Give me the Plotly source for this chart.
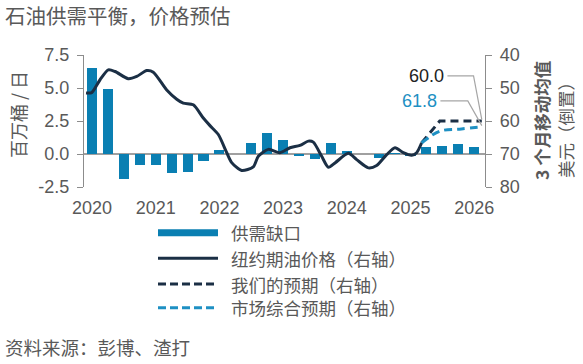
import plotly.graph_objects as go

# ---------------- data ----------------
quarters = [2020 + 0.25 * i for i in range(25)]  # 2020Q1 .. 2026Q1
supply_gap = [6.5, 4.9, -1.9, -0.87, -0.87, -1.45, -1.33, -0.51,
              0.3, 0.0, 0.84, 1.6, 1.09, -0.1, -0.38, 0.84,
              0.23, 0.0, -0.3, 0.05, -0.15, 0.56, 0.63, 0.73, 0.53]

wti_x = [2019.906, 2019.995, 2020.126, 2020.256, 2020.361, 2020.570, 2020.702,
         2020.859, 2020.962, 2021.173, 2021.330, 2021.433, 2021.590, 2021.747,
         2021.852, 2021.983, 2022.115, 2022.193, 2022.350, 2022.532, 2022.611,
         2022.768, 2022.951, 2023.108, 2023.265, 2023.396, 2023.474, 2023.606,
         2023.710, 2023.815, 2024.024, 2024.155, 2024.338, 2024.469, 2024.626,
         2024.757, 2024.887, 2025.019, 2025.097, 2025.176]
wti_y = [51.5, 51.4, 47.5, 44.5, 45.0, 47.2, 46.5,
         44.7, 45.2, 50.6, 53.4, 54.6, 55.1, 59.1,
         61.4, 64.1, 69.6, 72.6, 75.0, 73.9, 70.7,
         68.6, 69.6, 68.1, 67.4, 66.1, 66.4, 70.7,
         74.0, 72.7, 69.8, 71.7, 74.2, 73.5, 70.2,
         68.1, 69.6, 70.4, 69.6, 66.6]

ours_x = [2025.176, 2025.46, 2026.12]
ours_y = [66.6, 60.0, 60.0]
mkt_x = [2025.176, 2025.46, 2025.80, 2026.12]
mkt_y = [66.6, 63.1, 62.4, 61.8]

year_ticks = [2020, 2021, 2022, 2023, 2024, 2025, 2026]
left_ticks = [-2.5, 0.0, 2.5, 5.0, 7.5]
right_ticks = [40, 50, 60, 70, 80]

legend_names = ["供需缺口", "纽约期油价格（右轴）", "我们的预期（右轴）", "市场综合预期（右轴）"]

# ---------------- style ----------------
W, H = 583, 364
ML, MR, MT, MB = 84, 98, 55, 177
BAR = "#0a7fb2"
NAVY = "#1b2f45"
LBLUE = "#1e90c3"
GREY_TXT = "#595959"
AXIS = "#8c8c8c"
FONT = "Liberation Sans, Arial, Noto Sans CJK SC"
CJK = "Noto Sans CJK SC, Liberation Sans"

pw, ph = W - ML - MR, H - MT - MB


def px(x):
    return (x - ML) / pw


def py(y):
    return (H - MB - y) / ph


fig = go.Figure()
fig.add_trace(go.Bar(x=quarters, y=supply_gap, width=0.158, marker_color=BAR,
                     marker_line_width=0, name=legend_names[0], yaxis="y"))
fig.add_trace(go.Scatter(x=wti_x, y=wti_y, mode="lines", yaxis="y2",
                         line=dict(color=NAVY, width=3, shape="spline", smoothing=0.7),
                         name=legend_names[1]))
fig.add_trace(go.Scatter(x=ours_x, y=ours_y, mode="lines", yaxis="y2",
                         line=dict(color=NAVY, width=3, dash="8px,5px"),
                         name=legend_names[2]))
fig.add_trace(go.Scatter(x=mkt_x, y=mkt_y, mode="lines", yaxis="y2",
                         line=dict(color=LBLUE, width=3, dash="8px,5px", shape="spline"),
                         name=legend_names[3]))

shapes = []
annotations = []

# end-value labels with elbow leaders
lbl = [(ours_x[-1], ours_y[-1], "#222222", 2025.55, 46.3, 2025.99),
       (mkt_x[-1], mkt_y[-1], LBLUE, 2025.44, 53.9, 2025.90)]
for xe, ye, col, lx, ly, elbow in lbl:
    annotations.append(dict(x=lx, y=ly, xref="x", yref="y2", text=f"{ye:.1f}",
                            showarrow=False, xanchor="right", yanchor="middle",
                            font=dict(family=FONT, size=18, color=col)))
    shapes.append(dict(type="path", xref="x", yref="y2",
                       path=f"M {lx + 0.03},{ly} L {elbow},{ly} L {xe},{ye - 0.4}",
                       line=dict(color="#a6a6a6", width=1.2)))

# custom legend
leg_rows = [232.7, 258.3, 284.0, 307.7]
leg_styles = [dict(color=BAR, width=7), dict(color=NAVY, width=3),
              dict(color=NAVY, width=3, dash="8px,4px"), dict(color=LBLUE, width=3, dash="8px,4px")]
for yy, st, name in zip(leg_rows, leg_styles, legend_names):
    shapes.append(dict(type="line", xref="paper", yref="paper", x0=px(158), x1=px(218),
                       y0=py(yy), y1=py(yy), line=st))
    annotations.append(dict(x=px(229), y=py(yy), xref="paper", yref="paper", text=name,
                            showarrow=False, xanchor="left", yanchor="middle",
                            font=dict(family=CJK, size=17.5, color=GREY_TXT)))

# titles
annotations += [
    dict(x=px(3), y=py(15), xref="paper", yref="paper", text="石油供需平衡，价格预估",
         showarrow=False, xanchor="left", yanchor="middle",
         font=dict(family=CJK, size=20.5, color=GREY_TXT)),
    dict(x=px(3), y=py(347), xref="paper", yref="paper", text="资料来源：彭博、渣打",
         showarrow=False, xanchor="left", yanchor="middle",
         font=dict(family=CJK, size=18.5, color=GREY_TXT)),
    dict(x=px(18), y=py(115), xref="paper", yref="paper", text="百万桶 / 日",
         showarrow=False, textangle=-90, xanchor="center", yanchor="middle",
         font=dict(family=CJK, size=18, color=GREY_TXT)),
    dict(x=px(541), y=py(121), xref="paper", yref="paper", text="<b>3 个月移动均值</b>",
         showarrow=False, textangle=-90, xanchor="center", yanchor="middle",
         font=dict(family=CJK, size=17.5, color=GREY_TXT)),
    dict(x=px(565), y=py(126), xref="paper", yref="paper", text="美元（倒置）",
         showarrow=False, textangle=-90, xanchor="center", yanchor="middle",
         font=dict(family=CJK, size=17.5, color=GREY_TXT)),
]

fig.update_layout(
    width=W, height=H, margin=dict(l=ML, r=MR, t=MT, b=MB, pad=0),
    paper_bgcolor="white", plot_bgcolor="white", showlegend=False,
    font=dict(family=FONT, size=18, color=GREY_TXT),
    xaxis=dict(range=[2019.874, 2026.170], tickvals=year_ticks,
               ticktext=[str(t) for t in year_ticks], showgrid=False, zeroline=False,
               showline=False, ticks="", ticklabelstandoff=8,
               tickfont=dict(family=FONT, size=18, color=GREY_TXT)),
    yaxis=dict(range=[-2.5, 7.5], tickvals=left_ticks,
               ticktext=[f"{t:.1f}" for t in left_ticks], showgrid=False,
               zeroline=True, zerolinecolor="#a0a0a0", zerolinewidth=1.5,
               showline=True, linecolor=AXIS, linewidth=1.3, ticks="outside",
               ticklen=6, tickcolor=AXIS, tickwidth=1.3, ticklabelstandoff=4,
               tickfont=dict(family=FONT, size=18, color=GREY_TXT)),
    yaxis2=dict(range=[80, 40], overlaying="y", side="right", tickvals=right_ticks,
                showgrid=False, zeroline=False, showline=True, linecolor=AXIS,
                linewidth=1.3, ticks="outside", ticklen=6, tickcolor=AXIS, tickwidth=1.3,
                ticklabelstandoff=4, tickfont=dict(family=FONT, size=18, color=GREY_TXT)),
    shapes=shapes, annotations=annotations, bargap=0,
)

fig.write_html("out.html", config={"displayModeBar": False},
               post_script="document.body.style.margin='0';")
